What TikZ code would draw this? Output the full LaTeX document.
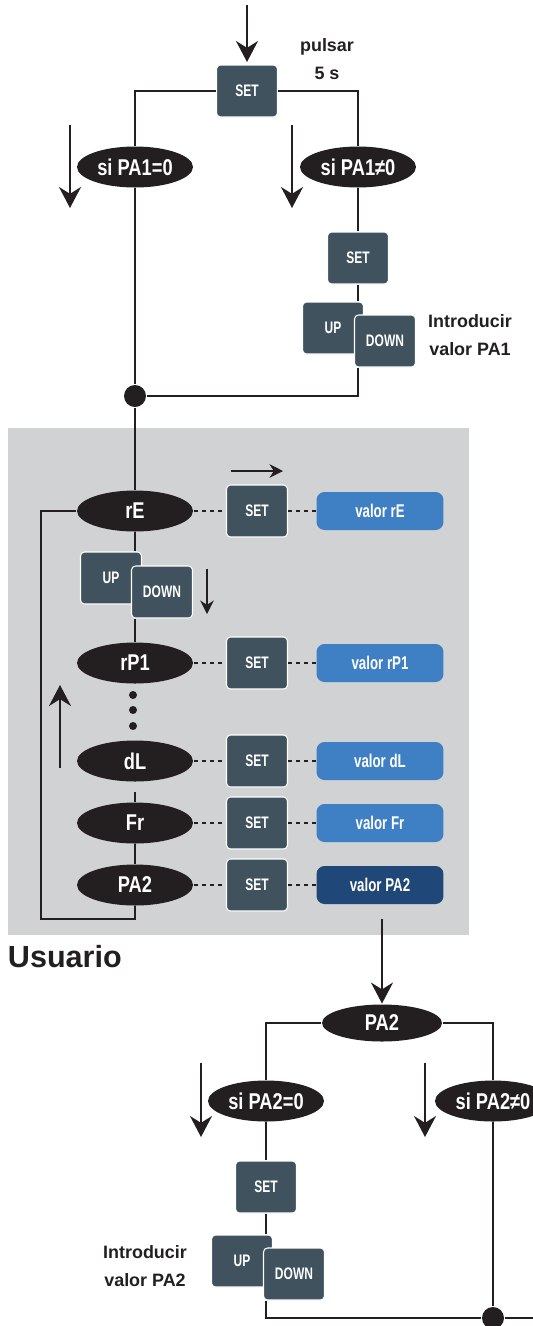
\documentclass[tikz,border=0pt]{standalone}
\usepackage{fontspec}
\setmainfont{Liberation Sans}
\newfontfamily\ovalfont{Liberation Sans}[FakeStretch=0.8]
\newfontfamily\keyfont{Liberation Sans}[FakeStretch=0.72]
\usetikzlibrary{shapes.geometric, arrows.meta}
\definecolor{keygray}{HTML}{40525E}
\definecolor{valblue}{HTML}{3F7FC4}
\definecolor{valdark}{HTML}{1F4878}
\definecolor{panelgray}{HTML}{D1D2D4}
\definecolor{ovalblack}{HTML}{231F20}

\begin{document}
\begin{tikzpicture}[x=0.02cm, y=-0.02cm, line width=1.1pt, color=ovalblack,
    oval/.style={ellipse, fill=ovalblack, text=white, inner sep=0pt, minimum width=2.32cm, minimum height=0.82cm, font=\ovalfont\bfseries\fontsize{13}{15}\selectfont},
    keybox/.style={rounded corners=0.08cm, fill=keygray, draw=white, line width=0.6pt, text=white, inner sep=0pt, minimum width=1.22cm, minimum height=1.04cm, font=\keyfont\bfseries\fontsize{9.5}{11}\selectfont},
    valbox/.style={rounded corners=0.16cm, text=white, inner sep=0pt, minimum width=2.54cm, minimum height=0.76cm, font=\keyfont\bfseries\fontsize{10.5}{12}\selectfont},
    notetext/.style={align=center, font=\bfseries\fontsize{10.2}{15.9}\selectfont},
    dashlink/.style={dash pattern=on 2.3pt off 2.3pt},
    bigarrow/.style={-{Stealth[length=0.42cm, width=0.44cm]}},
    smallarrow/.style={-{Stealth[length=0.27cm, width=0.27cm]}},
    junction/.style={circle, fill=ovalblack, inner sep=0pt, minimum size=0.44cm}]
  \useasboundingbox (0,0) rectangle (533,1326);

  \node[keybox] (set0) at (247,91) {SET};
  \node[notetext] (pulsar) at (327,59) {pulsar\\5 s};
  \coordinate (start) at (247,5);
  \draw[bigarrow] (start) -- (247,62);

  \node[oval] (pa1zero) at (135,167) {si PA1=0};
  \node[oval] (pa1nonzero) at (358,167) {si PA1≠0};
  \draw (set0.west) -| (pa1zero.north);
  \draw (set0.east) -| (pa1nonzero.north);
  \coordinate (arrA) at (70,125);
  \coordinate (arrB) at (292,125);
  \draw[bigarrow] (arrA) -- ++(0,83);
  \draw[bigarrow] (arrB) -- ++(0,83);

  \node[keybox] (set1) at (358,258) {SET};
  \node[keybox] (up1) at (333,328) {UP};
  \node[keybox] (down1) at (385,341) {DOWN};
  \node[notetext] (note1) at (470,335) {Introducir\\valor PA1};
  \node[junction] (dot1) at (135,396) {};
  \draw (pa1nonzero) -- (set1);
  \draw (set1.south) -- (set1.south |- up1.north);
  \draw (set1.south |- down1.south) |- (dot1);
  \draw (pa1zero) -- (dot1);

  \fill[panelgray] (8,428) rectangle (469,935);
  \node[anchor=base west, inner sep=0pt, font=\bfseries\fontsize{17.4}{20}\selectfont] (usuario) at (7,967) {Usuario};

  \foreach \nm/\lab/\y/\col in {re/rE/511/valblue, rp/rP1/663/valblue, dl/dL/761/valblue, fr/Fr/823/valblue, pa/PA2/885/valdark} {
    \node[oval] (\nm) at (135,\y) {\lab};
    \node[keybox] (s\nm) at (257,\y) {SET};
    \node[valbox, fill=\col] (v\nm) at (380,\y) {valor \lab};
    \draw[dashlink] (\nm) -- (s\nm);
    \draw[dashlink] (s\nm) -- (v\nm);
  }
  \draw (dot1) -- (re);

  \node[keybox] (up2) at (111,578) {UP};
  \node[keybox] (down2) at (162,592) {DOWN};
  \draw (re) -- (re.south |- up2.north);
  \draw (re.south |- down2.south) -- (rp);
  \draw[smallarrow] (207,569) -- (207,614);
  \draw[smallarrow] (231,471) -- (283,471);
  \foreach \y in {695,710,726}
    \fill (133,\y) circle (0.08cm);
  \draw[shorten <=0.2cm] (dl) -- (fr);
  \draw (fr) -- (pa);
  \coordinate (loopcorner) at (41,919);
  \draw (re.west) -| (loopcorner) -| (pa.south);
  \draw[bigarrow] (60,768) -- (60,685);

  \node[oval, minimum width=2.4cm, minimum height=0.74cm] (pa2) at (382,1023) {PA2};
  \coordinate (pa2out) at (382,919);
  \draw[bigarrow] (pa2out) -- (pa2);
  \node[oval] (pa2zero) at (266,1101) {si PA2=0};
  \node[oval] (pa2nonzero) at (493,1101) {si PA2≠0};
  \draw (pa2.west) -| (pa2zero.north);
  \draw (pa2.east) -| (pa2nonzero.north);
  \coordinate (arrC) at (201,1063);
  \coordinate (arrD) at (425,1063);
  \draw[bigarrow] (arrC) -- ++(0,74);
  \draw[bigarrow] (arrD) -- ++(0,74);

  \node[keybox] (set3) at (266,1187) {SET};
  \node[keybox] (up3) at (242,1261) {UP};
  \node[keybox] (down3) at (294,1274) {DOWN};
  \node[notetext] (note2) at (145,1266) {Introducir\\valor PA2};
  \node[junction] (dot2) at (493,1318) {};
  \coordinate (exit) at (540,1318);
  \draw (pa2zero) -- (set3);
  \draw (set3.south) -- (set3.south |- up3.north);
  \draw (set3.south |- down3.south) |- (dot2);
  \draw (pa2nonzero) -- (dot2);
  \draw (dot2) -- (exit);
\end{tikzpicture}
\end{document}
